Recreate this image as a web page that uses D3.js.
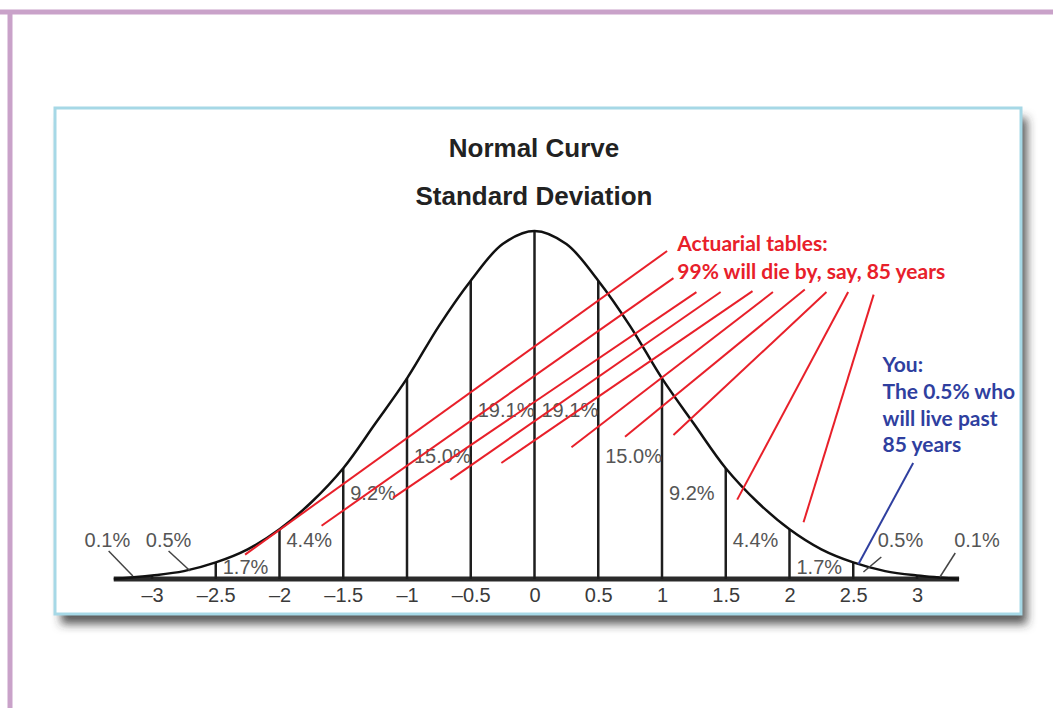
<!DOCTYPE html>
<html>
<head>
<meta charset="utf-8">
<script src="https://cdn.jsdelivr.net/npm/d3@7"></script>
<style>
  body { margin: 0; background: #fff; }
</style>
</head>
<body>
<div id="chart"></div>
<script>
// curve heights (density units) at each z
var curveZ = [-3.3, -3, -2.75, -2.5, -2.25, -2, -1.75, -1.5, -1.25, -1, -0.75, -0.5, -0.25, 0,
              0.25, 0.5, 0.75, 1, 1.25, 1.5, 1.75, 2, 2.25, 2.5, 2.75, 3, 3.33];
var curveH = [0, 0.004, 0.009, 0.019, 0.034, 0.057, 0.088, 0.127, 0.178, 0.230, 0.290, 0.342, 0.384, 0.399,
              0.384, 0.342, 0.290, 0.230, 0.178, 0.127, 0.088, 0.057, 0.034, 0.019, 0.009, 0.004, 0];

var tickValues = [-3, -2.5, -2, -1.5, -1, -0.5, 0, 0.5, 1, 1.5, 2, 2.5, 3];
var tickLabels = ["\u20133", "\u20132.5", "\u20132", "\u20131.5", "\u20131", "\u20130.5", "0",
                  "0.5", "1", "1.5", "2", "2.5", "3"];

// each band starts at a half sd and holds its share of the area
var bandStart = [-2.5, -2, -1.5, -1, -0.5, 0, 0.5, 1, 1.5, 2];
var bandLabels = ["1.7%", "4.4%", "9.2%", "15.0%", "19.1%", "19.1%", "15.0%", "9.2%", "4.4%", "1.7%"];
var tailLabels = ["0.1%", "0.5%", "0.5%", "0.1%"];

var redText = ["Actuarial tables:", "99% will die by, say, 85 years"];
var blueText = ["You:", "The 0.5% who", "will live past", "85 years"];

// ---- layout (not data) ----
var W = 1053, H = 708;
// label baseline, pixels above the axis, per band
var bandLift = [5, 32, 79, 116, 162, 162, 116, 79, 32, 5];
// tail labels: centre z, and leader line [z1, lift1, z2, lift2]
var tailPos = [-3.35, -2.87, 2.87, 3.47];
var tailLead = [[-3.34, 28, -3.15, 3], [-2.87, 28, -2.7, 8], [2.72, 22, 2.58, 7], [3.3, 26, 3.18, 2]];
// red pointer lines in data units [z1, d1, z2, d2]
var redLines = [
  [1.04, 0.376, -2.27, 0.028],
  [1.09, 0.345, -1.67, 0.061],
  [1.27, 0.329, -1.11, 0.093],
  [1.46, 0.329, -0.66, 0.114],
  [1.71, 0.330, -0.26, 0.133],
  [1.87, 0.329, 0.29, 0.151],
  [2.12, 0.332, 0.71, 0.163],
  [2.29, 0.329, 1.09, 0.165],
  [2.46, 0.329, 1.59, 0.091],
  [2.66, 0.326, 2.11, 0.065]
];
var blueLine = [2.97, 0.133, 2.54, 0.017];

var svg = d3.select("#chart")
  .append("svg")
    .attr("width", W)
    .attr("height", H);

var defs = svg.append("defs");
defs.append("filter")
    .attr("id", "shadow")
    .attr("x", "-5%").attr("y", "-5%")
    .attr("width", "115%").attr("height", "125%")
  .append("feDropShadow")
    .attr("dx", 6).attr("dy", 10)
    .attr("stdDeviation", 5)
    .attr("flood-color", "#333")
    .attr("flood-opacity", 0.8);

svg.append("rect").attr("width", W).attr("height", H).attr("fill", "#fff");

// outer mauve frame (only top and left show)
svg.append("line")
    .attr("x1", 0).attr("x2", W).attr("y1", 12).attr("y2", 12)
    .attr("stroke", "#c9a2c9").attr("stroke-width", 5);
svg.append("line")
    .attr("x1", 10).attr("x2", 10).attr("y1", 10).attr("y2", H)
    .attr("stroke", "#c9a2c9").attr("stroke-width", 5);

// card with shadow
svg.append("rect")
    .attr("x", 55).attr("y", 108)
    .attr("width", 966).attr("height", 506)
    .attr("fill", "#fff")
    .attr("filter", "url(#shadow)");
svg.append("rect")
    .attr("x", 55).attr("y", 108)
    .attr("width", 966).attr("height", 506)
    .attr("fill", "#fff")
    .attr("stroke", "#a6d8e6")
    .attr("stroke-width", 3);

var x = d3.scaleLinear().domain([-3, 3]).range([152, 917]);
var y = d3.scaleLinear().domain([0, 0.399]).range([579, 231]);

var g = svg.append("g");

// titles
g.append("text")
    .attr("x", 534).attr("y", 157)
    .attr("text-anchor", "middle")
    .style("font", "bold 26px 'Liberation Sans', Arial, sans-serif")
    .style("fill", "#222")
    .text("Normal Curve");
g.append("text")
    .attr("x", 534).attr("y", 205)
    .attr("text-anchor", "middle")
    .style("font", "bold 26px 'Liberation Sans', Arial, sans-serif")
    .style("fill", "#222")
    .text("Standard Deviation");

var curvePts = curveZ.map(function(z, i) { return [z, curveH[i]]; });
function heightAt(z) {
    var i = curveZ.indexOf(z);
    return curveH[i];
}

// thick baseline
g.append("line")
    .attr("x1", x(-3.3)).attr("x2", x(3.33))
    .attr("y1", y(0)).attr("y2", y(0))
    .attr("stroke", "#2a2a2a")
    .attr("stroke-width", 5);

// vertical dividers up to the curve
var divZ = tickValues;
g.selectAll(".div")
  .data(divZ)
  .enter().append("line")
    .attr("class", "div")
    .attr("x1", function(d) { return x(d); })
    .attr("x2", function(d) { return x(d); })
    .attr("y1", y(0))
    .attr("y2", function(d) { return y(heightAt(d)); })
    .attr("stroke", "#1e1e1e")
    .attr("stroke-width", 2.5);

// the curve
g.append("path")
    .datum(curvePts)
    .attr("fill", "none")
    .attr("stroke", "#111")
    .attr("stroke-width", 2.5)
    .attr("d", d3.line()
        .curve(d3.curveCatmullRom.alpha(0.5))
        .x(function(d) { return x(d[0]); })
        .y(function(d) { return y(d[1]); }));

// axis labels
var axis = g.append("g")
    .attr("transform", "translate(0," + y(0) + ")")
    .call(d3.axisBottom(x)
        .tickValues(tickValues)
        .tickSize(0)
        .tickPadding(9)
        .tickFormat(function(d, i) { return tickLabels[i]; }));
axis.select(".domain").remove();
axis.selectAll("text")
    .style("font", "20px 'Liberation Sans', Arial, sans-serif")
    .style("fill", "#3a3a3a");

// band percentages
g.selectAll(".band")
  .data(bandStart)
  .enter().append("text")
    .attr("class", "band")
    .attr("x", function(d) { return x(d) + 7; })
    .attr("y", function(d, i) { return y(0) - bandLift[i]; })
    .style("font", "20px 'Liberation Sans', Arial, sans-serif")
    .style("fill", "#555")
    .text(function(d, i) { return bandLabels[i]; });

// tail percentages with leader lines
g.selectAll(".tail")
  .data(tailLabels)
  .enter().append("text")
    .attr("class", "tail")
    .attr("x", function(d, i) { return x(tailPos[i]); })
    .attr("y", y(0) - 32)
    .attr("text-anchor", "middle")
    .style("font", "20px 'Liberation Sans', Arial, sans-serif")
    .style("fill", "#555")
    .text(function(d) { return d; });
g.selectAll(".lead")
  .data(tailLead)
  .enter().append("line")
    .attr("class", "lead")
    .attr("x1", function(d) { return x(d[0]); })
    .attr("y1", function(d) { return y(0) - d[1]; })
    .attr("x2", function(d) { return x(d[2]); })
    .attr("y2", function(d) { return y(0) - d[3]; })
    .attr("stroke", "#444")
    .attr("stroke-width", 1.5);

// red pointers
g.selectAll(".red")
  .data(redLines)
  .enter().append("line")
    .attr("class", "red")
    .attr("x1", function(d) { return x(d[0]); })
    .attr("y1", function(d) { return y(d[1]); })
    .attr("x2", function(d) { return x(d[2]); })
    .attr("y2", function(d) { return y(d[3]); })
    .attr("stroke", "#e8202a")
    .attr("stroke-width", 2);

g.selectAll(".redtxt")
  .data(redText)
  .enter().append("text")
    .attr("class", "redtxt")
    .attr("x", x(1.12))
    .attr("y", function(d, i) { return y(0.376) + i * 28; })
    .style("font", "bold 21px Lato, 'Open Sans', sans-serif")
    .style("fill", "#e8202a")
    .text(function(d) { return d; });

// blue pointer and note
g.append("line")
    .attr("x1", x(blueLine[0])).attr("y1", y(blueLine[1]))
    .attr("x2", x(blueLine[2])).attr("y2", y(blueLine[3]))
    .attr("stroke", "#2f3f9f")
    .attr("stroke-width", 2);

g.selectAll(".bluetxt")
  .data(blueText)
  .enter().append("text")
    .attr("class", "bluetxt")
    .attr("x", x(2.73))
    .attr("y", function(d, i) { return y(0.237) + i * 26.7; })
    .style("font", "bold 21px Lato, 'Open Sans', sans-serif")
    .style("fill", "#2f3f9f")
    .text(function(d) { return d; });
</script>
</body>
</html>
